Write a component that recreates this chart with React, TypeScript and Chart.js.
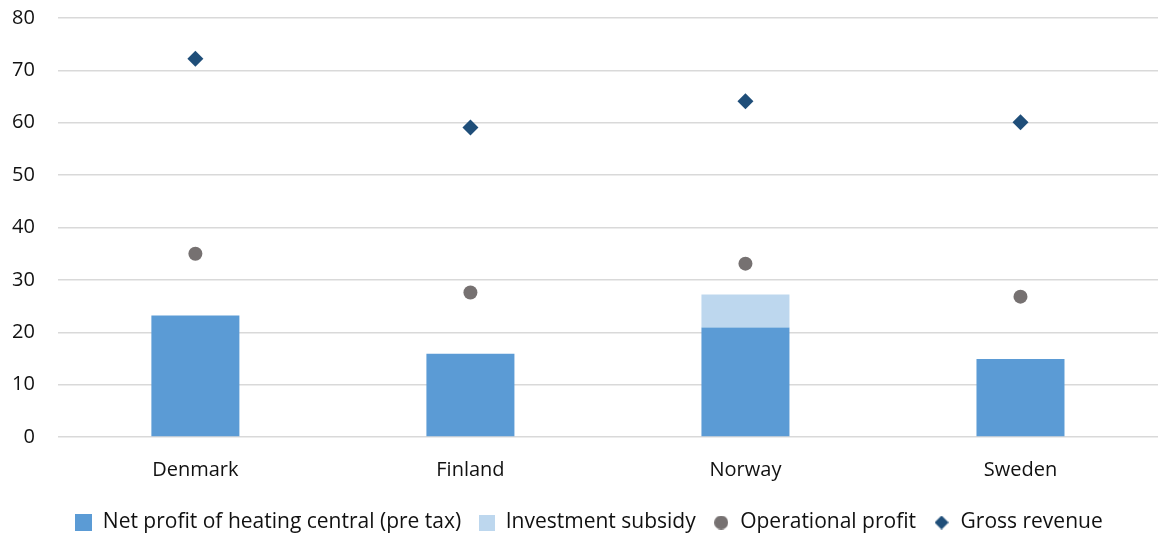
import React, { useEffect, useRef } from "react";
import { Chart, registerables } from "chart.js";

Chart.register(...registerables);

const countries = ["Denmark", "Finland", "Norway", "Sweden"];
const netProfit = [23.2, 15.9, 20.9, 14.9];
const investmentSubsidy = [0, 0, 6.3, 0];
const operationalProfit = [35.0, 27.6, 33.1, 26.8];
const grossRevenue = [72.2, 59.1, 64.1, 60.1];

const FONT = "'Open Sans', 'Noto Sans', sans-serif";
const TEXT = "#111";

// Small canvases used as legend markers, so each keeps its own size
function marker(kind: "rect" | "circle" | "diamond", color: string, size: number) {
  const c = document.createElement("canvas");
  c.width = size;
  c.height = size;
  const ctx = c.getContext("2d")!;
  ctx.fillStyle = color;
  const h = size / 2;
  if (kind === "rect") {
    ctx.fillRect(0, 0, size, size);
  } else if (kind === "circle") {
    ctx.beginPath();
    ctx.arc(h, h, h, 0, Math.PI * 2);
    ctx.fill();
  } else {
    ctx.beginPath();
    ctx.moveTo(h, 0);
    ctx.lineTo(size, h);
    ctx.lineTo(h, size);
    ctx.lineTo(0, h);
    ctx.closePath();
    ctx.fill();
  }
  return c;
}

export default function App() {
  const ref = useRef<HTMLCanvasElement | null>(null);

  useEffect(() => {
    if (!ref.current) return;
    const legendMarkers = [
      marker("rect", "#5B9BD5", 17),
      marker("rect", "#BDD7EE", 16),
      marker("circle", "#767171", 14),
      marker("diamond", "#1F4E79", 14),
    ];
    const chart = new Chart(ref.current, {
      type: "bar",
      data: {
        labels: countries,
        datasets: [
          {
            type: "bar",
            label: "Net profit of heating central (pre tax)",
            data: netProfit,
            backgroundColor: "#5B9BD5",
            stack: "bars",
            barPercentage: 1,
            categoryPercentage: 0.32,
            order: 3,
          },
          {
            type: "bar",
            label: "Investment subsidy",
            data: investmentSubsidy,
            backgroundColor: "#BDD7EE",
            stack: "bars",
            barPercentage: 1,
            categoryPercentage: 0.32,
            order: 3,
          },
          {
            type: "line",
            label: "Operational profit",
            data: operationalProfit,
            showLine: false,
            stack: "op",
            pointStyle: "circle",
            pointRadius: 7,
            backgroundColor: "#767171",
            borderColor: "#767171",
            borderWidth: 0,
            order: 1,
          },
          {
            type: "line",
            label: "Gross revenue",
            data: grossRevenue,
            showLine: false,
            stack: "gr",
            pointStyle: "rectRot",
            pointRadius: 8,
            backgroundColor: "#1F4E79",
            borderColor: "#1F4E79",
            borderWidth: 0,
            order: 1,
          },
        ],
      },
      options: {
        animation: false,
        responsive: true,
        maintainAspectRatio: false,
        layout: { padding: { left: 12, right: 0, top: 18, bottom: -8 } },
        scales: {
          x: {
            stacked: true,
            grid: { display: false },
            border: { display: false },
            ticks: { color: TEXT, font: { family: FONT, size: 20 }, padding: 13 },
          },
          y: {
            stacked: true,
            min: 0,
            max: 80,
            ticks: { stepSize: 10, color: TEXT, font: { family: FONT, size: 20 }, padding: 0 },
            grid: {
              color: "#d9d9d9",
              lineWidth: 1.5,
              drawTicks: true,
              tickLength: 23,
              tickColor: "rgba(0,0,0,0)",
            },
            border: { display: false },
          },
        },
        plugins: {
          tooltip: { enabled: false },
          legend: {
            position: "bottom",
            labels: {
              usePointStyle: true,
              boxWidth: 17,
              boxHeight: 17,
              color: TEXT,
              font: { family: FONT, size: 21 },
              padding: 17,
              sort: (a, b) => a.datasetIndex! - b.datasetIndex!,
              generateLabels: (ch) =>
                Chart.defaults.plugins.legend.labels
                  .generateLabels(ch)
                  .map((item) => ({ ...item, pointStyle: legendMarkers[item.datasetIndex!] })),
            },
          },
        },
      },
    });
    return () => chart.destroy();
  }, []);

  return (
    <div style={{ position: "fixed", left: 0, top: 0, width: 1166, height: 535, background: "#fff" }}>
      <canvas ref={ref} />
    </div>
  );
}
